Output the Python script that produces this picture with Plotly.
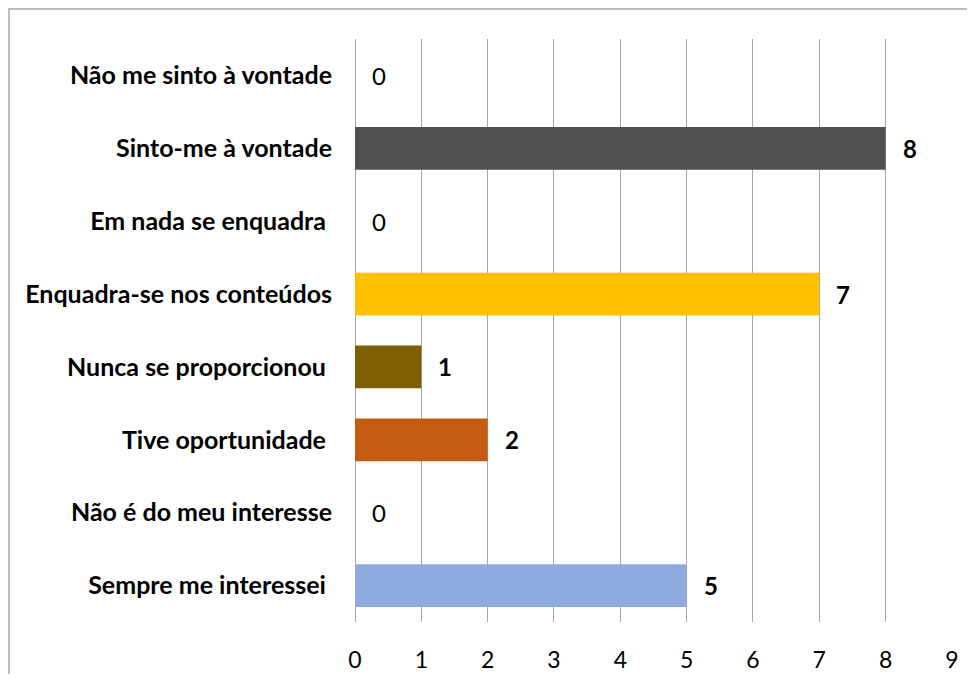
import plotly.graph_objects as go

categories = [
    "Não me sinto à vontade",
    "Sinto-me à vontade",
    "Em nada se enquadra ",
    "Enquadra-se nos conteúdos",
    "Nunca se proporcionou ",
    "Tive oportunidade ",
    "Não é do meu interesse",
    "Sempre me interessei ",
]
values = [0, 8, 0, 7, 1, 2, 0, 5]
bar_colors = ["#505050", "#505050", "#FFC000", "#FFC000", "#7F6000", "#C55A11", "#8FAADC", "#8FAADC"]
x_ticks = [0, 1, 2, 3, 4, 5, 6, 7, 8, 9]

FONT = "Lato, Carlito, 'Open Sans', sans-serif"
GRID = "#A6A6A6"

# the page body has an 8px default margin; figure is sized to fit the 975x682 window
W, H = 959, 666
ML, MR, MT, MB = 347, 15, 31, 52
PW = W - ML - MR
PH = H - MT - MB

tick_text = ["<b>" + c.replace(" ", "\u00a0") + "</b>" for c in categories]

fig = go.Figure()
fig.add_trace(go.Bar(
    x=values,
    y=categories,
    orientation="h",
    marker=dict(color=bar_colors, line=dict(width=0)),
    hoverinfo="x+y",
))

for c, v in zip(categories, values):
    fig.add_annotation(
        x=v, y=c, xref="x", yref="y",
        text=("<b>%d</b>" % v) if v != 0 else "%d" % v,
        showarrow=False, xanchor="left", yanchor="middle",
        xshift=15,
        font=dict(family=FONT, size=24, color="#000000"),
    )

fig.update_layout(
    width=W, height=H,
    margin=dict(l=ML, r=MR, t=MT, b=MB, autoexpand=False),
    paper_bgcolor="white", plot_bgcolor="white",
    bargap=0.415,
    showlegend=False,
    font=dict(family=FONT, color="#000000"),
    xaxis=dict(
        range=[0, 9.001],
        tickvals=x_ticks,
        ticktext=[str(t) for t in x_ticks],
        showgrid=True, gridcolor=GRID, gridwidth=1,
        zeroline=True, zerolinecolor=GRID, zerolinewidth=1,
        showline=False, ticks="",
        tickfont=dict(family=FONT, size=23, color="#000000"),
        ticklabelstandoff=22,
        automargin=False,
        fixedrange=True,
    ),
    yaxis=dict(
        categoryorder="array", categoryarray=categories,
        autorange="reversed",
        tickmode="array", tickvals=categories, ticktext=tick_text,
        showgrid=False, zeroline=False, showline=False, ticks="",
        tickfont=dict(family=FONT, size=25, color="#000000"),
        ticklabelstandoff=22,
        automargin=False,
        fixedrange=True,
    ),
    shapes=[dict(
        type="rect", xref="paper", yref="paper",
        x0=(1 - ML) / PW, x1=1.2,
        y0=-0.3, y1=(PH + MT - 1) / PH,
        line=dict(color="#A6A6A6", width=1.5),
        fillcolor="rgba(0,0,0,0)", layer="below",
    )],
)

fig.write_html("out.html")
